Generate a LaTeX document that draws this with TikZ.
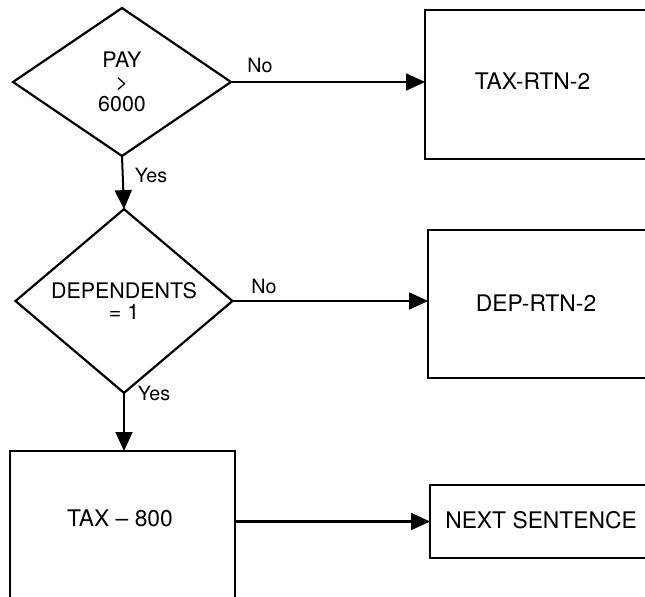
\documentclass[tikz,border=0pt]{standalone}
\usepackage{fontspec}
\setmainfont{TeX Gyre Heros}
\usetikzlibrary{shapes.geometric,arrows.meta}
\begin{document}
\begin{tikzpicture}[x=0.02cm,y=-0.02cm,
  every node/.style={inner sep=0pt,outer sep=0pt},
  line/.style={line width=1.15pt},
  flow/.style={line, -{Triangle[length=0.38cm,width=0.34cm]}},
  decision/.style={draw, line width=1.25pt, diamond, align=center,
    font=\fontsize{12.2}{12.4}\selectfont},
  boxfont/.style={font=\fontsize{13}{15}\selectfont},
  proc/.style={rectangle},
  edge/.style={line width=1.35pt, line join=miter}]
\useasboundingbox (0,0) rectangle (645,597);
\begin{scope}
\clip (0,0) rectangle (645,597);

% decisions
\node[decision, minimum width=4.36cm, minimum height=2.96cm] (pay) at (122,82) {PAY\\>\\6000};
\node[decision, minimum width=4.34cm, minimum height=2.96cm] (dep) at (124,301) {DEPENDENTS\\= 1};

% processes; they run past the right and bottom edges of the sheet
\node[proc, minimum width=7.0cm, minimum height=2.98cm,
  label={[boxfont,xshift=-1.35cm,yshift=0.07cm]center:TAX-RTN-2}]
  (rtn) at (600,84.5) {};
\node[proc, minimum width=7.0cm, minimum height=2.96cm,
  label={[boxfont,xshift=-1.34cm,yshift=0.02cm]center:DEP-RTN-2}]
  (deprtn) at (603,304) {};
\node[proc, minimum width=4.5cm, minimum height=5.0cm,
  label={[boxfont,xshift=-0.05cm,yshift=1.16cm]center:TAX -- 800}]
  (tax) at (122.5,576) {};
\node[proc, minimum width=7.0cm, minimum height=1.46cm,
  label={[boxfont,xshift=-1.28cm,yshift=0.03cm]center:NEXT SENTENCE}]
  (next) at (605,521.5) {};

% visible sides of the process boxes
\draw[edge] (rtn.north east) -- (rtn.north west) -- (rtn.south west) -- (rtn.south east);
\draw[edge] (deprtn.north east) -- (deprtn.north west) -- (deprtn.south west) -- (deprtn.south east);
\draw[edge] (next.north east) -- (next.north west) -- (next.south west) -- (next.south east);
\draw[edge] (tax.south west) -- (tax.north west) -- (tax.north east) -- (tax.south east);

% connectors
\draw[flow] (pay.east) -- (pay.east -| rtn.west);
\draw[flow] (pay.south) -- (dep.north);
\draw[flow] (dep.east) -- (dep.east -| deprtn.west);
\draw[flow] (dep.south) -- (dep.south |- tax.north);
\draw[flow] (next.west -| tax.east) -- (next.west);

% branch labels
\node[font=\fontsize{11.2}{13}\selectfont] (no1) at (260,65) {No};
\node[font=\fontsize{11.2}{13}\selectfont] (yes1) at (151,175) {Yes};
\node[font=\fontsize{11.2}{13}\selectfont] (no2) at (264,286) {No};
\node[font=\fontsize{11.2}{13}\selectfont] (yes2) at (154,393) {Yes};
\end{scope}
\end{tikzpicture}
\end{document}
